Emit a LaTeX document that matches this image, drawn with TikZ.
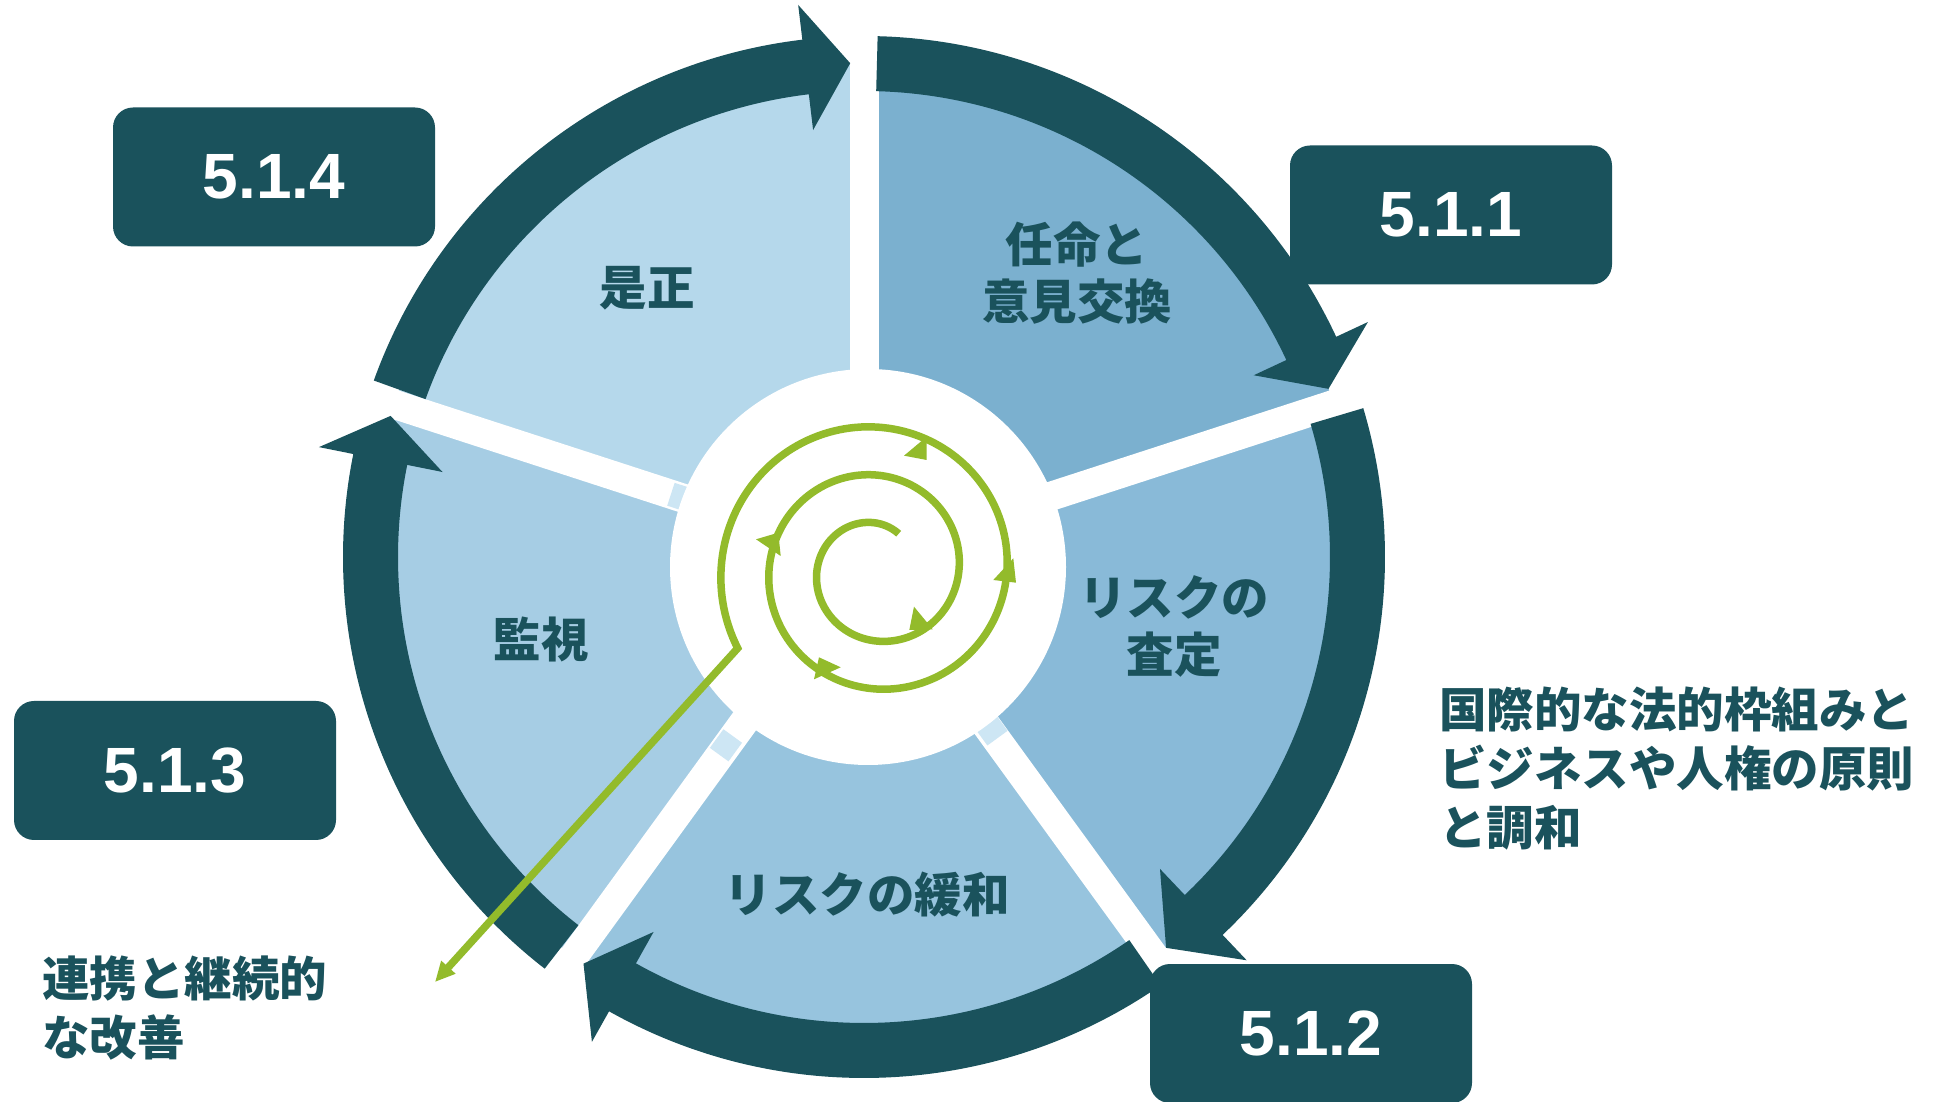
\documentclass[tikz,border=0pt]{standalone}
\usepackage{fontspec}
\newfontfamily\jp{Noto Sans CJK JP}
\newfontfamily\numfont{Liberation Sans}
\usetikzlibrary{arrows.meta}
\definecolor{ringc}{HTML}{1A525C}
\definecolor{wA}{HTML}{7BB0CF}
\definecolor{wB}{HTML}{89BAD8}
\definecolor{wC}{HTML}{97C4DE}
\definecolor{wD}{HTML}{A6CDE4}
\definecolor{wE}{HTML}{B5D8EB}
\definecolor{patchc}{HTML}{CDE6F4}
\definecolor{greenc}{HTML}{93BB2B}
\begin{document}
\begin{tikzpicture}[x=1pt,y=1pt,
  jptext/.style={font=\jp\bfseries\fontsize{47.5}{57}\selectfont, text=ringc, align=center, inner sep=0pt},
  jpside/.style={font=\jp\bfseries\fontsize{47.5}{59}\selectfont, text=ringc, align=left, inner sep=0pt, anchor=west},
  numbox/.style={fill=ringc, rounded corners=20pt, minimum width=322pt, minimum height=139pt, inner sep=0pt,
    font=\numfont\bfseries\fontsize{64}{64}\selectfont, text=white},
  spiral/.style={draw=greenc, line width=7.5pt},
  sphead/.style={fill=greenc}]
\useasboundingbox (0,0) rectangle (1949,1101);

% wedges, gaps and light patches
\begin{scope}[shift={(864,544)}]
  \fill[wA] (0,0) -- (18:494) arc[start angle=18,end angle=90,radius=494] -- cycle;
  \fill[wB] (0,0) -- (-54:494) arc[start angle=-54,end angle=18,radius=494] -- cycle;
  \fill[wC] (0,0) -- (-126:494) arc[start angle=-126,end angle=-54,radius=494] -- cycle;
  \fill[wD] (0,0) -- (162:494) arc[start angle=162,end angle=234,radius=494] -- cycle;
  \fill[wE] (0,0) -- (90:494) arc[start angle=90,end angle=162,radius=494] -- cycle;
  \foreach \g in {90,18,-54,-126,162}
    \draw[white, line width=29pt] (0,0) -- (\g:545);
  \fill[patchc, rotate=162] (185,-12) rectangle (203,12);
  \fill[patchc, rotate=-54] (195,-11) rectangle (225,14);
  \fill[patchc, rotate=-126] (222,-12.5) rectangle (245,10.5);
\end{scope}

% central white disk
\fill[white] (868,534) circle[radius=198];

% ring segments with arrow heads
\begin{scope}[shift={(864,544)}]
  \foreach \s/\b/\t in {160.2/96.8/91.6, 88.5/25.0/19.9, 16.6/-46.5/-52.3, -55.3/-119.3/-124.6, -127.8/-191.4/-196.6}
    \fill[ringc] (\s:521) arc[start angle=\s,end angle=\b,radius=521] -- (\b:556) -- (\t:494)
      -- (\b:430) -- (\b:466) arc[start angle=\b,end angle=\s,radius=466] -- cycle;
\end{scope}

% wedge labels
\node[jptext] (t1) at (1077,828) {任命と\\意見交換};
\node[jptext] (t2) at (1174,475) {リスクの\\査定};
\node[jptext] (t3) at (867,206) {リスクの緩和};
\node[jptext] (t4) at (541,461.4) {監視};
\node[jptext] (t5) at (647,812.5) {是正};

% green spiral
\coordinate (arrowend) at (435,119);
\draw[spiral, line join=miter, -{Triangle[length=20pt,width=18pt]}]
  plot[domain=58:929.5, samples=400, variable=\a]
  ({876+(35+0.1333*\a)*cos(\a)}, {531+(35+0.1333*\a)*sin(\a)}) -- (arrowend);
\fill[sphead] (914,494.3) -- (909.3,471) -- (932.7,471.7) -- cycle;
\fill[sphead] (926.7,664.3) -- (926.7,641) -- (904,645.3) -- cycle;
\fill[sphead] (1013.3,542.7) -- (1016,518.3) -- (993.3,521) -- cycle;
\fill[sphead] (756,561.7) -- (778.3,568.3) -- (780.7,545) -- cycle;
\fill[sphead] (819,443.7) -- (814,421.7) -- (840.7,433.7) -- cycle;

% number boxes
\node[numbox] (b514) at (274,924) {5.1.4};
\node[numbox] (b511) at (1451,886) {5.1.1};
\node[numbox] (b513) at (175,330.5) {5.1.3};
\node[numbox] (b512) at (1311,67.5) {5.1.2};

% side texts
\node[jpside] (t6) at (1439,332) {国際的な法的枠組みと\\ビジネスや人権の原則\\と調和};
\node[jpside] (t7) at (42,92.5) {連携と継続的\\な改善};
\end{tikzpicture}
\end{document}
